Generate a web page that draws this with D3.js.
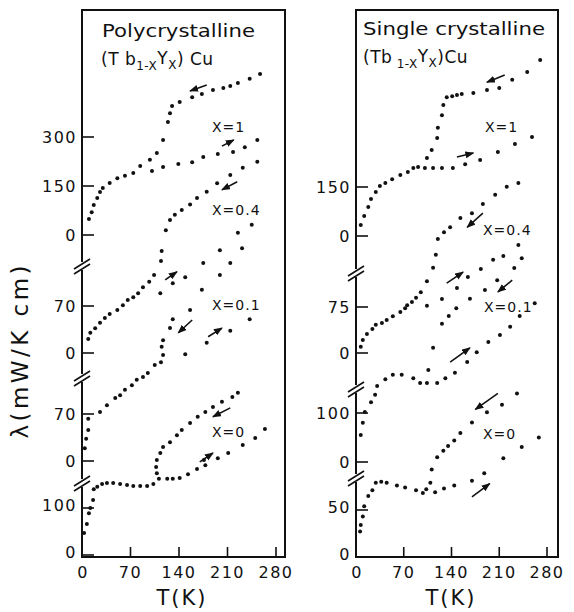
<!DOCTYPE html>
<html lang="en">
<head>
<meta charset="UTF-8">
<title>Thermal conductivity of (Tb1-xYx)Cu</title>
<script src="https://d3js.org/d3.v7.min.js"></script>
<style>
  body { margin: 0; background: #fff; }
  svg { display: block; }
  text { font-family: 'DejaVu Sans', sans-serif; fill: #111; }
</style>
</head>
<body>
<svg id="chart" width="574" height="612"></svg>
<script>
// shared temperature ticks and series names
const tTicks = [0, 70, 140, 210, 280];
const seriesLabels = ["X=1", "X=0.4", "X=0.1", "X=0"];

// tick values of the four stacked sub-axes, top to bottom
const polyTicks = [[0, 150, 300], [0, 70], [0, 70], [0, 100]];
const singleTicks = [[0, 150], [0, 75], [0, 100], [0, 50]];

// [T (K), lambda] -- polycrystalline
const polyX1Cool = [[10,49],[14,70],[17,92],[22,113],[26,132],[30,144],[40,159],[51,174],[62,181],[74,190],[84,211],[98,230],[108,251],[117,291],[124,346],[127,373],[130,395],[141,407],[159,422],[173,432],[189,444],[204,450],[214,456],[225,465],[242,478],[257,493]];
const polyX1Warm = [[101,196],[117,208],[139,217],[159,223],[175,239],[196,248],[218,254],[235,269],[253,291]];
const polyX04Cool = [[9,21],[12,30],[19,37],[26,45],[33,52],[40,58],[51,64],[59,71],[66,79],[74,83],[81,89],[88,98],[97,106],[104,116],[114,137],[115,152],[121,183],[127,198],[134,206],[144,213],[156,221],[166,231],[180,240],[195,253],[214,265],[232,276],[253,285]];
const polyX04Warm = [[113,89],[131,104],[149,113],[175,134],[199,153],[225,179],[245,191]];
const polyX01Cool = [[4,19],[6,33],[9,46],[9,63],[26,73],[36,83],[48,94],[55,98],[62,106],[72,113],[79,121],[88,125],[95,131],[105,143],[114,147],[117,158],[115,170],[117,180],[127,198],[131,211],[156,225],[173,255],[199,277],[214,295],[231,317]];
const polyX01Warm = [[149,159],[180,176],[214,194],[242,211]];
const polyX0Cool = [[3,47],[7,66],[10,89],[12,100],[16,117],[17,140],[22,145],[29,151],[36,153],[45,153],[55,151],[65,149],[74,147],[84,147],[94,147],[103,151],[111,162],[108,174],[107,187],[108,202],[113,217],[117,230],[127,240],[137,255],[144,266],[156,281],[167,294],[178,304],[189,315],[202,326],[217,336],[225,345]];
const polyX0Warm = [[123,162],[131,162],[141,164],[153,172],[166,183],[176,202],[178,191],[196,206],[211,217],[232,234],[250,249],[264,268]];

// single crystalline
const singleX1Cool = [[7,34],[12,61],[18,89],[22,113],[29,135],[35,153],[43,162],[53,174],[65,187],[76,196],[84,208],[91,211],[104,239],[111,263],[119,300],[120,331],[126,370],[128,401],[133,425],[141,428],[148,432],[155,435],[172,438],[192,447],[210,453],[229,478],[251,502],[270,539]];
const singleX1Warm = [[101,208],[113,208],[126,208],[142,208],[160,220],[182,233],[208,257],[233,282],[258,303]];
const singleX04Cool = [[7,10],[10,21],[16,31],[24,39],[29,46],[38,49],[45,54],[54,60],[65,67],[72,73],[75,78],[82,83],[88,90],[95,99],[104,117],[113,139],[117,160],[120,186],[129,197],[138,205],[153,220],[170,228],[186,243],[204,258],[221,271],[238,277]];
const singleX04Warm = [[104,77],[126,88],[148,106],[164,124],[183,137],[201,152],[216,158]];
const singleX01Cool = [[7,55],[10,80],[13,102],[22,122],[28,137],[31,155],[43,169],[54,178],[67,178],[84,171],[94,161],[104,161],[106,188],[113,233],[126,282],[136,298],[147,314],[167,333],[189,351],[207,371],[232,396],[243,416],[238,443]];
const singleX01Warm = [[119,161],[131,171],[145,182],[163,204],[177,224],[194,245],[211,259],[226,276],[240,298],[262,324]];
const singleX0Cool = [[6,27],[7,34],[10,43],[12,54],[18,65],[24,71],[29,79],[37,80],[45,79],[60,76],[72,74],[88,71],[98,68],[103,72],[109,79],[111,93],[119,106],[128,113],[135,118],[144,124],[153,132],[170,143],[192,154],[214,162],[236,174]];
const singleX0Warm = [[116,69],[129,73],[144,76],[170,81],[188,89],[216,105],[243,117],[268,127]];

// heating / cooling arrows: [sub-axis, T0, lambda0, T1, lambda1]
const polyArrows = [[0,180,459,156,441],[0,202,272,219,291],[1,224,255,202,243],[1,120,109,137,121],[2,159,210,139,191],[2,182,185,202,198],[3,214,313,189,294],[3,170,198,189,217]];
const singleArrows = [[0,218,493,192,471],[0,148,242,172,254],[1,186,228,163,205],[1,133,114,157,132],[2,229,371,208,347],[2,138,204,167,233],[3,208,174,175,157],[3,170,64,196,78]];

// ---- layout ----
const frameTop = 10, axisY = 557;
const panels = [
  {
    title: "Polycrystalline", titleX: 102, titleY: 37, titleW: 153,
    sub: ["(T b", "1-X", "Y", "X", ") Cu"], subX: 101, subY: 65,
    left: 82, xEnd: 276, right: 285,
    zero: [235, 353, 461, 555], top: [137, 306, 414, 508],
    breaks: [265, 377, 482],
    ticks: polyTicks,
    series: [[polyX1Cool, polyX1Warm], [polyX04Cool, polyX04Warm], [polyX01Cool, polyX01Warm], [polyX0Cool, polyX0Warm]],
    arrows: polyArrows,
    labelPos: [[212, 132], [212, 215], [212, 310], [212, 437]],
    tTitleX: 182
  },
  {
    title: "Single crystalline", titleX: 363, titleY: 35, titleW: 182,
    sub: ["(Tb", " 1-X", "Y", "X", ")Cu"], subX: 363, subY: 63,
    left: 356, xEnd: 547, right: 558,
    zero: [236, 353, 462, 557], top: [187, 307, 413, 510],
    breaks: [272, 388, 477],
    ticks: singleTicks,
    series: [[singleX1Cool, singleX1Warm], [singleX04Cool, singleX04Warm], [singleX01Cool, singleX01Warm], [singleX0Cool, singleX0Warm]],
    arrows: singleArrows,
    labelPos: [[485, 132], [483, 235], [484, 312], [483, 439]],
    tTitleX: 451
  }
];

const svg = d3.select("#chart");

svg.append("defs").append("marker")
  .attr("id", "head")
  .attr("markerUnits", "userSpaceOnUse")
  .attr("markerWidth", 10).attr("markerHeight", 8)
  .attr("refX", 8).attr("refY", 3.5)
  .attr("orient", "auto")
  .append("path")
  .attr("d", "M0,0 L9,3.5 L0,7 Z")
  .attr("fill", "#111");

panels.forEach(p => {
  const g = svg.append("g");

  const x = d3.scaleLinear().domain([0, 280]).range([p.left, p.xEnd]);
  const ys = p.ticks.map((tk, i) =>
    d3.scaleLinear().domain([0, d3.max(tk)]).range([p.zero[i], p.top[i]]));

  // frame
  g.append("path")
    .attr("d", `M${p.left},${frameTop}H${p.right}V${axisY}H${p.left}Z`)
    .attr("fill", "none")
    .attr("stroke", "#111")
    .attr("stroke-width", 2);

  // bottom axis ticks + labels
  g.selectAll(".xt").data(tTicks.slice(1)).join("line")
    .attr("x1", d => x(d)).attr("x2", d => x(d))
    .attr("y1", axisY).attr("y2", axisY - 10)
    .attr("stroke", "#111").attr("stroke-width", 1.6);
  g.selectAll(".xl").data(tTicks).join("text")
    .attr("x", d => x(d) + (d === 0 ? 1 : 0))
    .attr("y", 578)
    .attr("text-anchor", "middle")
    .attr("font-size", 16)
    .attr("letter-spacing", 1.5)
    .text(d => d);

  // stacked y sub-axes
  p.ticks.forEach((tk, i) => {
    g.selectAll(null).data(tk).join("line")
      .attr("x1", p.left).attr("x2", p.left + 12)
      .attr("y1", d => ys[i](d)).attr("y2", d => ys[i](d))
      .attr("stroke", "#111").attr("stroke-width", 1.6);
    g.selectAll(null).data(tk).join("text")
      .attr("x", p.left - 5)
      .attr("y", d => ys[i](d))
      .attr("dy", i === 3 ? "0.2em" : "0.36em")
      .attr("text-anchor", "end")
      .attr("font-size", 16)
      .attr("letter-spacing", 1.5)
      .text(d => d);
  });

  // axis breaks
  p.breaks.forEach(b => {
    g.append("rect")
      .attr("x", p.left - 2).attr("y", b - 3)
      .attr("width", 4).attr("height", 8)
      .attr("fill", "#fff");
    [0, 5].forEach(o => {
      g.append("line")
        .attr("x1", p.left - 8).attr("y1", b + 4 + o)
        .attr("x2", p.left + 8).attr("y2", b - 6 + o)
        .attr("stroke", "#111").attr("stroke-width", 1.6);
    });
  });

  // data points
  p.series.forEach((pair, i) => {
    pair.forEach(pts => {
      g.selectAll(null).data(pts).join("circle")
        .attr("cx", d => x(d[0]))
        .attr("cy", d => ys[i](d[1]))
        .attr("r", 2)
        .attr("fill", "#111");
    });
  });

  // arrows
  g.selectAll(".arrow").data(p.arrows).join("line")
    .attr("x1", d => x(d[1])).attr("y1", d => ys[d[0]](d[2]))
    .attr("x2", d => x(d[3])).attr("y2", d => ys[d[0]](d[4]))
    .attr("stroke", "#111").attr("stroke-width", 1.6)
    .attr("marker-end", "url(#head)");

  // series labels
  g.selectAll(".lab").data(seriesLabels).join("text")
    .attr("x", (d, i) => p.labelPos[i][0])
    .attr("y", (d, i) => p.labelPos[i][1])
    .attr("font-size", 14)
    .attr("letter-spacing", 1)
    .text(d => d);

  // title and compound
  g.append("text")
    .attr("x", p.titleX).attr("y", p.titleY)
    .attr("font-size", 17)
    .attr("textLength", p.titleW)
    .attr("lengthAdjust", "spacingAndGlyphs")
    .text(p.title);

  const sub = g.append("text")
    .attr("x", p.subX).attr("y", p.subY)
    .attr("font-size", 17)
    .attr("letter-spacing", 0.5);
  sub.append("tspan").text(p.sub[0]);
  sub.append("tspan").attr("dy", 5).attr("font-size", 12).text(p.sub[1]);
  sub.append("tspan").attr("dy", -6).text(p.sub[2]);
  sub.append("tspan").attr("dy", 5).attr("font-size", 12).text(p.sub[3]);
  sub.append("tspan").attr("dy", -4).text(p.sub[4]);

  // x title
  g.append("text")
    .attr("x", p.tTitleX).attr("y", 605)
    .attr("text-anchor", "middle")
    .attr("font-size", 21)
    .attr("letter-spacing", 2)
    .text("T(K)");
});

// y title
svg.append("text")
  .attr("transform", "translate(28,352) rotate(-90)")
  .attr("text-anchor", "middle")
  .attr("font-size", 23)
  .attr("textLength", 173)
  .attr("lengthAdjust", "spacing")
  .text("λ(mW/K cm)");
</script>
</body>
</html>
